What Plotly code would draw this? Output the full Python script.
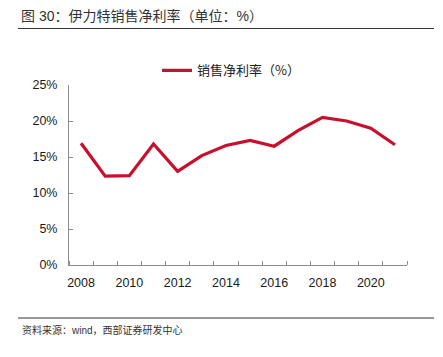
import plotly.graph_objects as go

years = [2008, 2009, 2010, 2011, 2012, 2013, 2014, 2015, 2016, 2017, 2018, 2019, 2020, 2021]
net_margin = [16.9, 12.35, 12.4, 16.8, 13.0, 15.2, 16.6, 17.3, 16.5, 18.7, 20.5, 20.0, 19.0, 16.7]
series_name = "销售净利率（%）"
y_ticks = [0, 5, 10, 15, 20, 25]
y_labels = ["0%", "5%", "10%", "15%", "20%", "25%"]
x_ticks = [2008, 2010, 2012, 2014, 2016, 2018, 2020]
title_text = "图 30：伊力特销售净利率（单位：%）"
source_text = "资料来源：wind，西部证券研发中心"

W, H = 443, 357
L, R, T, B = 69, 407, 84.7, 265.3
PW, PH = R - L, B - T

def px(x):
    return (x - L) / PW

def py(y):
    return (B - y) / PH

FONT = "Liberation Sans, Arial, Noto Sans CJK SC, sans-serif"
CJK = "Noto Sans CJK SC, sans-serif"
RED = "#C8102E"
AX = "#8c8c8c"

fig = go.Figure()
fig.add_trace(go.Scatter(
    x=years, y=net_margin, mode="lines", name=series_name,
    line=dict(color=RED, width=3.2),
))

fig.update_layout(
    width=W, height=H,
    margin=dict(l=L, r=W - R, t=T, b=H - B, pad=0),
    paper_bgcolor="white", plot_bgcolor="white",
    font=dict(family=FONT, size=12.5, color="#1a1a1a"),
    showlegend=True,
    legend=dict(
        orientation="h", x=px(157), y=py(70), xanchor="left", yanchor="middle",
        font=dict(family=CJK, size=13, color="#222"),
        bgcolor="rgba(0,0,0,0)", itemwidth=30,
    ),
    xaxis=dict(
        range=[2007.5, 2021.5], tickmode="array", tickvals=x_ticks,
        ticks="", showgrid=False, zeroline=False,
        showline=True, linecolor=AX, linewidth=1,
        ticklabelstandoff=6,
        minor=dict(tickmode="array", tickvals=[y + 0.5 for y in range(2007, 2022)],
                   ticks="inside", ticklen=4, tickcolor=AX, tickwidth=1, showgrid=False),
    ),
    yaxis=dict(
        range=[0, 25], tickmode="array", tickvals=y_ticks, ticktext=y_labels,
        ticks="inside", ticklen=4, tickcolor=AX, showgrid=False, zeroline=False,
        showline=True, linecolor=AX, linewidth=1, ticklabelstandoff=8,
    ),
    shapes=[
        dict(type="line", xref="paper", yref="paper", x0=px(18), x1=px(434), y0=py(28), y1=py(28),
             line=dict(color="#333", width=1)),
        dict(type="line", xref="paper", yref="paper", x0=px(18), x1=px(434), y0=py(318.5), y1=py(318.5),
             line=dict(color="#333", width=1)),
    ],
    annotations=[
        dict(text=title_text, xref="paper", yref="paper", x=px(19), y=py(15), xanchor="left",
             yanchor="middle", showarrow=False, font=dict(family=FONT, size=14, color="#333")),
        dict(text=source_text, xref="paper", yref="paper", x=px(20), y=py(331), xanchor="left",
             yanchor="middle", showarrow=False, font=dict(family=FONT, size=10, color="#333")),
    ],
)

fig.write_html("out.html", config={"displayModeBar": False},
               post_script="document.body.style.margin='0';")
